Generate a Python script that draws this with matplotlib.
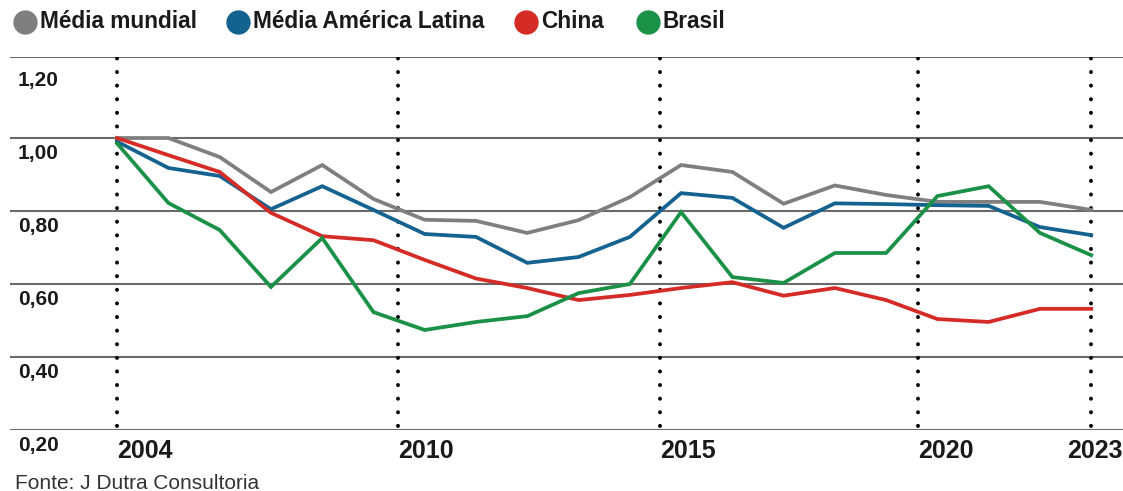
import numpy as np
import matplotlib
matplotlib.use("Agg")
import matplotlib.pyplot as plt

# dados (indice, 2004 = 1,00)
anos = np.arange(2004, 2024)
media_mundial = [1.00, 1.00, 0.948, 0.852, 0.926, 0.833, 0.776, 0.773, 0.740, 0.775,
                 0.838, 0.926, 0.907, 0.820, 0.870, 0.844, 0.825, 0.825, 0.825, 0.803]
media_latina = [0.99, 0.918, 0.896, 0.805, 0.868, 0.803, 0.737, 0.729, 0.658, 0.674,
                0.729, 0.849, 0.836, 0.754, 0.821, 0.819, 0.816, 0.814, 0.756, 0.734]
china = [1.00, 0.953, 0.907, 0.795, 0.731, 0.720, 0.666, 0.615, 0.589, 0.556,
         0.570, 0.589, 0.605, 0.568, 0.589, 0.556, 0.504, 0.496, 0.532, 0.532]
brasil = [0.985, 0.822, 0.748, 0.592, 0.726, 0.523, 0.474, 0.496, 0.512, 0.575,
          0.600, 0.797, 0.619, 0.603, 0.685, 0.685, 0.841, 0.868, 0.740, 0.679]

series = ['Média mundial', 'Média América Latina', 'China', 'Brasil']
cores = ['#7f7f7f', '#14628f', '#d42b27', '#1b9147']
valores = [media_mundial, media_latina, china, brasil]

y_labels = ['1,20', '1,00', '0,80', '0,60', '0,40', '0,20']
y_vals = [1.20, 1.00, 0.80, 0.60, 0.40, 0.20]
x_labels = ['2004', '2010', '2015', '2020', '2023']
x_pos = [2004.0, 2009.48, 2014.59, 2019.63, 2023.0]
# o rotulo de 2023 fica um pouco a esquerda da linha
x_lbl_pos = [2004.0, 2009.48, 2014.59, 2019.63, 2022.53]

plt.rcParams['font.family'] = ['Liberation Sans', 'DejaVu Sans']

fig = plt.figure(figsize=(11.23, 4.91), dpi=100)
ax = fig.add_axes([10 / 1123, 61 / 491, 1113 / 1123, 373 / 491])
ax.set_xlim(2001.91, 2023.62)
ax.set_ylim(0.20, 1.222)
ax.axis('off')

# linhas horizontais
for v in [1.222, 1.00, 0.80, 0.60, 0.40, 0.20]:
    ax.axhline(v, color='#6a6a6a', lw=1.5, zorder=1)

# linhas verticais pontilhadas
ax.vlines(x_pos, 0.21, 1.222, colors='black', lw=2.8,
          linestyles=(0, (0.05, 3.45)), capstyle='round', zorder=2)

for vals, cor in zip(valores, cores):
    ax.plot(anos, vals, color=cor, lw=2.7, solid_joinstyle='miter', zorder=3)

# rotulos do eixo y (abaixo de cada linha)
for lbl, v in zip(y_labels, y_vals):
    ax.annotate(lbl, xy=(8 / 1113, v), xycoords=ax.get_yaxis_transform(),
                xytext=(0, -11), textcoords='offset points',
                fontsize=15, fontweight='bold', color='#1a1a1a',
                ha='left', va='center')

for lbl, x in zip(x_labels, x_lbl_pos):
    ax.annotate(lbl, xy=(x, 0), xycoords=ax.get_xaxis_transform(),
                xytext=(0, -15), textcoords='offset points',
                fontsize=18, fontweight='bold', color='#1a1a1a',
                ha='left', va='center', annotation_clip=False)

# legenda
leg_x = [25, 238, 526, 648]
for nome, cor, xp in zip(series, cores, leg_x):
    fig.add_artist(plt.Line2D([xp / 1123], [1 - 22 / 491], marker='o',
                              markersize=16.5, color=cor, transform=fig.transFigure))
    fig.text((xp + 15) / 1123, 1 - 22 / 491, nome, fontsize=16.3,
             fontweight='bold', color='#1a1a1a', ha='left', va='center')

fig.text(15 / 1123, 2 / 491, 'Fonte: J Dutra Consultoria', fontsize=15,
         color='#333333', ha='left', va='baseline',
         family=['Liberation Sans Narrow', 'Liberation Sans'])

fig.savefig('out.png', dpi=100, facecolor='white')
